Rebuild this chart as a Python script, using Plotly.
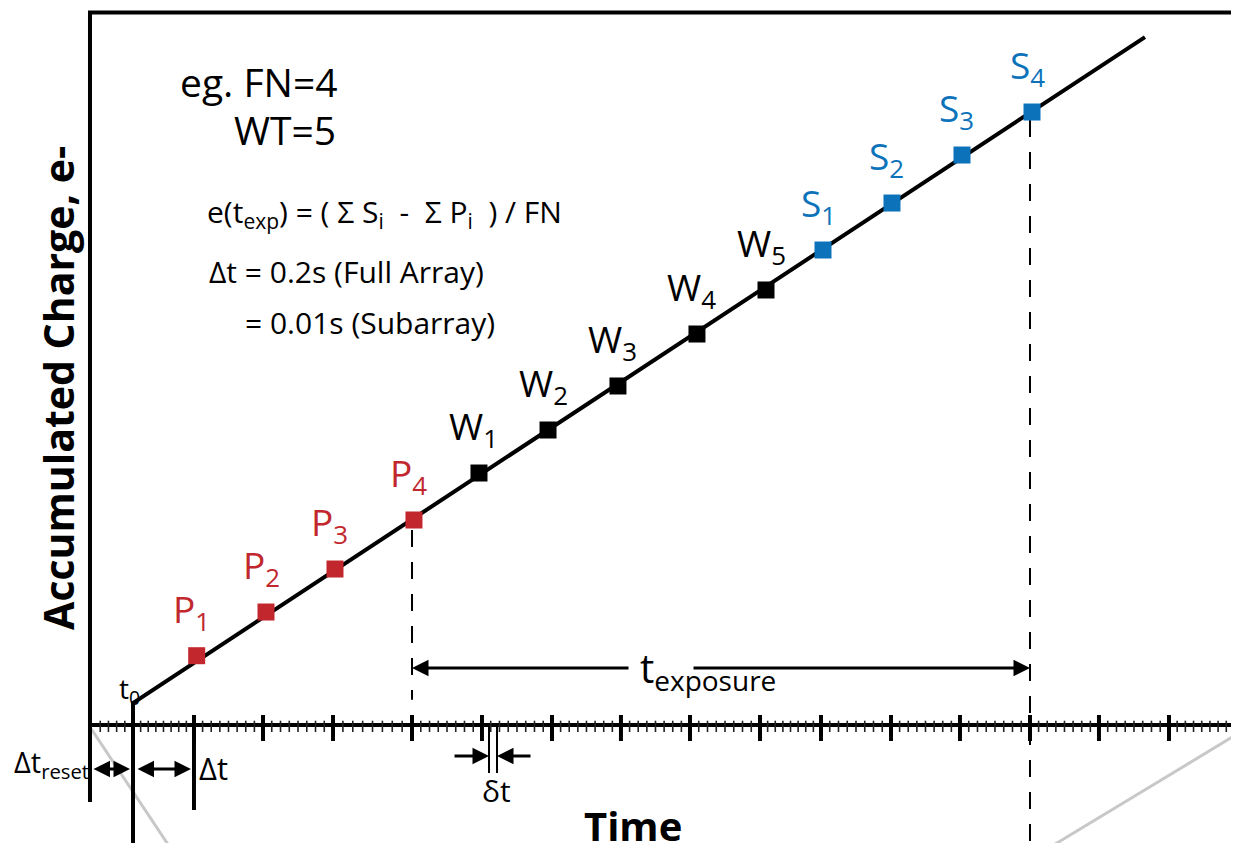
import plotly.graph_objects as go

# ---------------- data (time in frame units, charge in arbitrary units) ----------------
P_LABELS = ["P<sub>1</sub>", "P<sub>2</sub>", "P<sub>3</sub>", "P<sub>4</sub>"]
P_TIME = [0.915, 1.911, 2.902, 4.037]
P_CHARGE = [1.513, 2.467, 3.406, 4.476]

W_LABELS = ["W<sub>1</sub>", "W<sub>2</sub>", "W<sub>3</sub>", "W<sub>4</sub>", "W<sub>5</sub>"]
W_TIME = [4.971, 5.963, 6.968, 8.103, 9.095]
W_CHARGE = [5.502, 6.441, 7.402, 8.537, 9.498]

S_LABELS = ["S<sub>1</sub>", "S<sub>2</sub>", "S<sub>3</sub>", "S<sub>4</sub>"]
S_TIME = [9.914, 10.905, 11.911, 12.917]
S_CHARGE = [10.371, 11.397, 12.445, 13.384]

RAMP_TIME = [0.0, 0.0, 14.54]
RAMP_CHARGE = [-2.9, 0.48, 15.02]

MAJOR_TICKS = [0.0, 0.876, 1.868, 2.874, 4.009, 5.014, 6.020, 7.011, 8.003,
               9.009, 9.885, 10.891, 11.882, 12.888, 13.879, 14.885]
MINOR_PER_MAJOR = 7
FRAME_LEFT = -0.618
# ranges chosen so the page's 8px body margin is compensated
X_RANGE = [-1.796, 16.006]
Y_RANGE = [-2.751, 15.655]

RED = "#c1272d"
BLUE = "#0c72ba"
BLACK = "#000000"
GRAY = "#c8c8c8"
FONT = "Open Sans"

fig = go.Figure()

def seg_trace(xs, ys, color, width, dash=None):
    fig.add_trace(go.Scatter(x=xs, y=ys, mode="lines", hoverinfo="skip",
                             line=dict(color=color, width=width, dash=dash)))

# gray background strokes
seg_trace([FRAME_LEFT, 0.489, 0.60, None, 16.2, 15.891, 13.276, 13.0],
          [-0.044, -2.576, -2.83, None, 0.05, -0.175, -2.576, -2.83], GRAY, 3)

# frame (left + top)
seg_trace([FRAME_LEFT, FRAME_LEFT, 16.5], [-1.681, 15.557, 15.557], BLACK, 4)

# time axis line
seg_trace([FRAME_LEFT, 16.5], [0, 0], BLACK, 4)

# minor ticks (subdivisions of the major ticks)
step0 = (MAJOR_TICKS[1] - MAJOR_TICKS[0] + MAJOR_TICKS[-1] - MAJOR_TICKS[-2]) / 2 / (MINOR_PER_MAJOR + 1)
minor = []
t = MAJOR_TICKS[0] - step0
while t > FRAME_LEFT + 0.05:
    minor.append(t)
    t -= step0
for a, b in zip(MAJOR_TICKS[:-1], MAJOR_TICKS[1:]):
    for k in range(1, MINOR_PER_MAJOR + 1):
        minor.append(a + (b - a) * k / (MINOR_PER_MAJOR + 1))
t = MAJOR_TICKS[-1] + step0
while t < X_RANGE[1] + 0.2:
    minor.append(t)
    t += step0
mx, my = [], []
for v in minor:
    mx += [v, v, None]
    my += [0.094, -0.153, None]
seg_trace(mx, my, "#222222", 1.6)

# major ticks
Mx, My = [], []
for v in MAJOR_TICKS:
    Mx += [v, v, None]
    My += [0.218, -0.349, None]
seg_trace(Mx, My, BLACK, 4)

# delta-t marker line
seg_trace([MAJOR_TICKS[1], MAJOR_TICKS[1]], [0.218, -1.856], BLACK, 4)

# dashed exposure boundaries
seg_trace([4.009, 4.009], [4.26, 0.55], BLACK, 2, "17px,15px")
seg_trace([12.888, 12.888], [13.21, -2.9], BLACK, 2, "17px,15px")

# delta-small-t lines
seg_trace([5.115, 5.115, None, 5.230, 5.230], [-0.044, -1.048, None, -0.044, -1.048], BLACK, 2)

# ramp
seg_trace(RAMP_TIME, RAMP_CHARGE, BLACK, 4)

# samples
for xs, ys, col in [(P_TIME, P_CHARGE, RED), (W_TIME, W_CHARGE, BLACK), (S_TIME, S_CHARGE, BLUE)]:
    fig.add_trace(go.Scatter(x=xs, y=ys, mode="markers", hoverinfo="skip",
                             marker=dict(symbol="square", size=17, color=col, line=dict(width=0))))

ann = []
for labels, xs, ys, col in [(P_LABELS, P_TIME, P_CHARGE, RED), (W_LABELS, W_TIME, W_CHARGE, BLACK),
                            (S_LABELS, S_TIME, S_CHARGE, BLUE)]:
    for lab, x, y in zip(labels, xs, ys):
        ann.append(dict(x=x, y=y, text=lab, showarrow=False, xanchor="center", yanchor="bottom",
                        xshift=-5, yshift=15, font=dict(family=FONT, size=37, color=col)))

def txt(x, y, s, size, xanchor="left", yanchor="middle", bold=False, angle=0):
    ann.append(dict(x=x, y=y, text=(f"<b>{s}</b>" if bold else s), showarrow=False, xanchor=xanchor,
                    yanchor=yanchor, textangle=angle, font=dict(family=FONT, size=size, color=BLACK)))

NB = "\u00a0"
txt(0.647, 14.06, "eg. FN=4", 39)
txt(1.422, 13.0, "WT=5", 39)
txt(1.034, 11.18, f"e(t<sub>exp</sub>) = ( Σ S<sub>i</sub>{NB}{NB}-{NB}{NB}Σ P<sub>i</sub>{NB}{NB}) / FN", 30)
txt(1.063, 9.91, "Δt = 0.2s (Full Array)", 30)
txt(1.580, 8.78, "= 0.01s (Subarray)", 30)
txt(-0.23, 0.76, "t<sub>0</sub>", 28)
txt(-1.739, -0.83, "Δt<sub>reset</sub>", 29)
txt(0.920, -0.94, "Δt", 31)
txt(5.216, -1.42, "δt", 30, xanchor="center")
txt(7.26, 1.22, "t<sub>exposure</sub>", 40)
txt(7.184, -2.2, "Time", 40, xanchor="center", bold=True)
txt(-1.078, 7.36, "Accumulated Charge, e-", 41, xanchor="center", bold=True, angle=-90)

def arrow(x0, y0, x1, y1, both=False):
    d = dict(x=x1, y=y1, ax=x0, ay=y0, xref="x", yref="y", axref="x", ayref="y", text="",
             showarrow=True, arrowhead=2, arrowsize=1.1, arrowwidth=3, arrowcolor=BLACK, standoff=0)
    if both:
        d.update(arrowside="end+start", startarrowhead=2, startarrowsize=1.1, startstandoff=0)
    ann.append(d)

# exposure arrows
arrow(7.141, 1.245, 4.009, 1.245)
arrow(8.032, 1.245, 12.888, 1.245)
# reset / frame arrows
arrow(-0.589, -0.961, -0.043, -0.961, both=True)
arrow(0.043, -0.961, 0.833, -0.961, both=True)
# delta-small-t arrows
arrow(4.598, -0.677, 5.115, -0.677)
arrow(5.733, -0.677, 5.230, -0.677)

fig.update_layout(
    width=1239, height=843, margin=dict(l=0, r=0, t=0, b=0),
    paper_bgcolor="white", plot_bgcolor="white", showlegend=False,
    xaxis=dict(range=X_RANGE, visible=False, fixedrange=True),
    yaxis=dict(range=Y_RANGE, visible=False, fixedrange=True),
    annotations=ann,
)
fig.write_html("out.html")
